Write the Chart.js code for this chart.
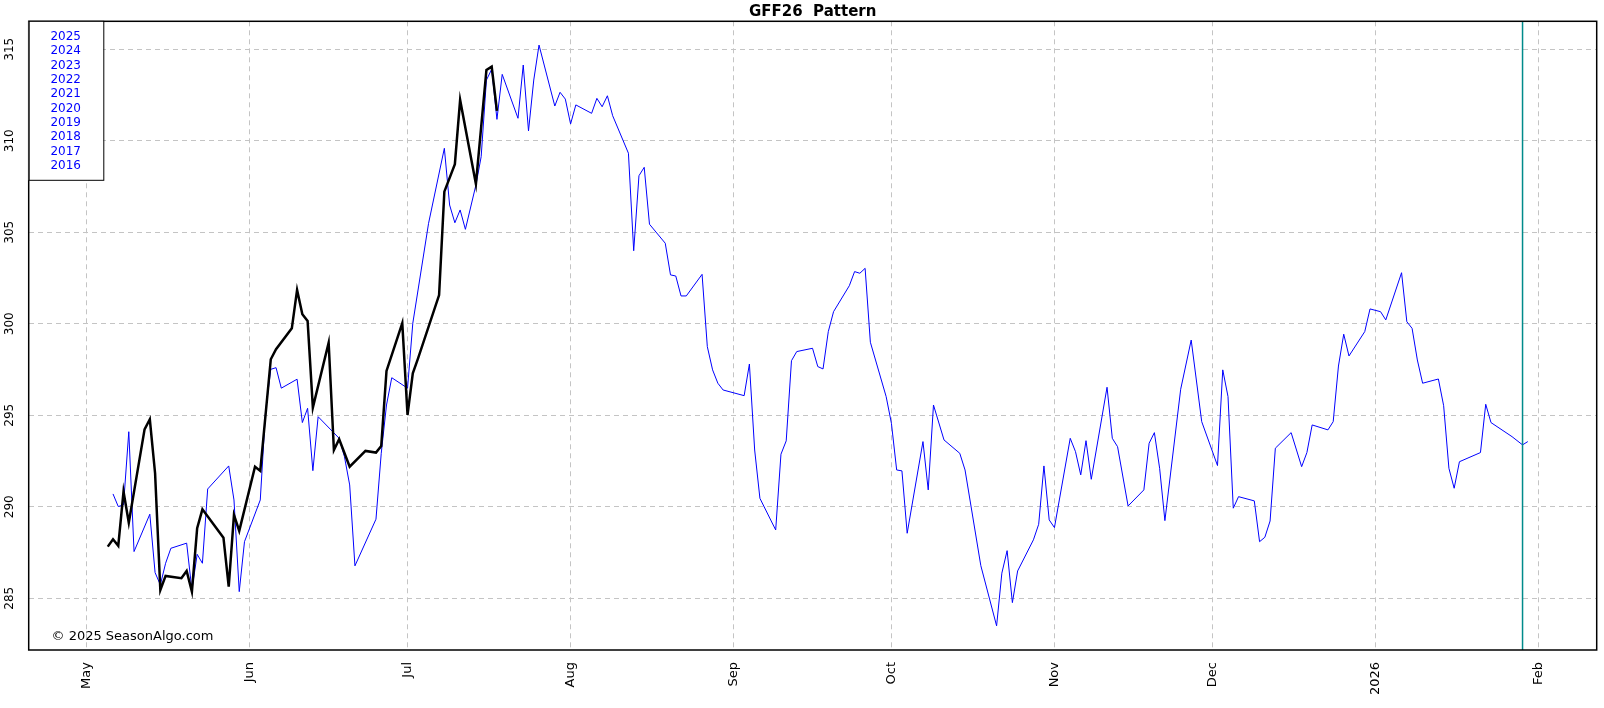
<!DOCTYPE html>
<html>
<head>
<meta charset="utf-8">
<title>GFF26 Pattern</title>
<script src="https://cdn.jsdelivr.net/npm/chart.js@4.4.1/dist/chart.umd.min.js"></script>
<style>
  html, body { margin: 0; padding: 0; background: #fff; }
  #wrap { width: 1604px; height: 708px; position: relative; }
</style>
</head>
<body>
<div id="wrap"><canvas id="pattern"></canvas></div>
<script>
const titleText = 'GFF26  Pattern';
const copyright = '\u00a9 2025 SeasonAlgo.com';
const legendYears = ['2025', '2024', '2023', '2022', '2021', '2020', '2019', '2018', '2017', '2016'];

const monthTicks = ['05-01', '06-01', '07-01', '08-01', '09-01', '10-01', '11-01', '12-01', '01-01', '02-01'];
const monthLabels = ['May', 'Jun', 'Jul', 'Aug', 'Sep', 'Oct', 'Nov', 'Dec', '2026', 'Feb'];
const priceTicks = [285, 290, 295, 300, 305, 310, 315];
const cursorDate = '01-29';

// 2025 contract path (black)
const actualDates = ['05-05', '05-06', '05-07', '05-08', '05-09', '05-12', '05-13', '05-14', '05-15', '05-16',
  '05-19', '05-20', '05-21', '05-22', '05-23', '05-27', '05-28', '05-29', '05-30', '06-02',
  '06-03', '06-05', '06-06', '06-09', '06-10', '06-11', '06-12', '06-13', '06-16', '06-17',
  '06-18', '06-20', '06-23', '06-25', '06-26', '06-27', '06-30', '07-01', '07-02', '07-03',
  '07-07', '07-08', '07-10', '07-11', '07-14', '07-16', '07-17', '07-18'];
const actualValues = [287.82, 288.22, 287.86, 290.83, 289.13, 294.23, 294.78, 291.83, 285.45, 286.22,
  286.09, 286.49, 285.36, 288.83, 289.86, 288.31, 285.63, 289.55, 288.68, 292.19,
  291.96, 298.06, 298.61, 299.75, 301.85, 300.52, 300.15, 295.42, 298.97, 293.10,
  293.69, 292.19, 293.05, 292.96, 293.32, 297.42, 300.03, 295.02, 297.29, 298.11,
  301.57, 307.22, 308.72, 312.23, 307.64, 313.87, 314.05, 311.64];

// seasonal pattern (blue)
const patternDates = ['05-06', '05-07', '05-08', '05-09', '05-10', '05-13', '05-14', '05-15', '05-16', '05-17',
  '05-20', '05-21', '05-22', '05-23', '05-24', '05-28', '05-29', '05-30', '05-31', '06-03',
  '06-04', '06-05', '06-06', '06-07', '06-10', '06-11', '06-12', '06-13', '06-14', '06-18',
  '06-19', '06-20', '06-21', '06-25', '06-26', '06-27', '06-28', '07-01', '07-02', '07-05',
  '07-08', '07-09', '07-10', '07-11', '07-12', '07-14', '07-15', '07-16', '07-17', '07-18',
  '07-19', '07-22', '07-23', '07-24', '07-25', '07-26', '07-29', '07-30', '07-31', '08-01',
  '08-02', '08-05', '08-06', '08-07', '08-08', '08-09', '08-12', '08-13', '08-14', '08-15',
  '08-16', '08-19', '08-20', '08-21', '08-22', '08-23', '08-26', '08-27', '08-28', '08-29',
  '08-30', '09-03', '09-04', '09-05', '09-06', '09-09', '09-10', '09-11', '09-12', '09-13',
  '09-16', '09-17', '09-18', '09-19', '09-20', '09-23', '09-24', '09-25', '09-26', '09-27',
  '09-30', '10-01', '10-02', '10-03', '10-04', '10-07', '10-08', '10-09', '10-11', '10-14',
  '10-15', '10-18', '10-21', '10-22', '10-23', '10-24', '10-25', '10-28', '10-29', '10-30',
  '10-31', '11-01', '11-04', '11-05', '11-06', '11-07', '11-08', '11-11', '11-12', '11-13',
  '11-15', '11-18', '11-19', '11-20', '11-21', '11-22', '11-25', '11-27', '11-29', '12-02',
  '12-03', '12-04', '12-05', '12-06', '12-09', '12-10', '12-11', '12-12', '12-13', '12-16',
  '12-18', '12-19', '12-20', '12-23', '12-24', '12-25', '12-26', '12-27', '12-30', '12-31',
  '01-02', '01-03', '01-06', '01-07', '01-08', '01-09', '01-10', '01-13', '01-14', '01-15',
  '01-16', '01-17', '01-21', '01-22', '01-23', '01-27', '01-29', '01-30'];
const patternValues = [290.70, 290.01, 290.10, 294.10, 287.55, 289.59, 286.40, 285.73, 286.91, 287.73,
  288.01, 285.45, 287.40, 286.91, 290.97, 292.23, 290.37, 285.36, 288.09, 290.37,
  295.20, 297.51, 297.60, 296.48, 296.97, 294.60, 295.38, 291.97, 294.92, 293.74,
  292.74, 291.19, 286.77, 289.32, 292.92, 295.56, 297.05, 296.48, 300.03, 305.49,
  309.59, 306.49, 305.52, 306.22, 305.16, 307.58, 309.13, 313.32, 313.91, 311.17,
  313.63, 311.23, 314.14, 310.54, 313.32, 315.23, 311.90, 312.65, 312.28, 310.92,
  311.96, 311.50, 312.32, 311.86, 312.46, 311.37, 309.32, 303.99, 308.09, 308.55,
  305.44, 304.40, 302.67, 302.61, 301.52, 301.52, 302.70, 298.75, 297.48, 296.75,
  296.38, 296.07, 297.80, 293.10, 290.46, 288.73, 292.87, 293.60, 297.98, 298.48,
  298.66, 297.66, 297.53, 299.57, 300.66, 302.08, 302.85, 302.76, 303.03, 298.99,
  296.02, 294.56, 292.01, 291.96, 288.55, 293.56, 290.92, 295.56, 293.65, 292.92,
  292.01, 286.78, 283.49, 286.37, 287.60, 284.76, 286.49, 288.19, 289.04, 292.23,
  289.28, 288.86, 293.74, 293.01, 291.74, 293.61, 291.50, 296.53, 293.74, 293.28,
  290.04, 290.92, 293.47, 294.05, 292.10, 289.24, 296.42, 299.11, 294.65, 292.25,
  297.48, 296.02, 289.92, 290.55, 290.32, 288.09, 288.33, 289.22, 293.20, 294.05,
  292.19, 292.96, 294.47, 294.20, 294.65, 297.69, 299.43, 298.24, 299.57, 300.81,
  300.66, 300.21, 302.79, 300.11, 299.75, 298.02, 296.75, 296.98, 295.52, 292.10,
  291.01, 292.46, 292.96, 295.60, 294.60, 293.83, 293.38, 293.56];

// days since 1 May 2025; Jan/Feb belong to 2026
function dayOf(md) {
  const m = parseInt(md.slice(0, 2), 10);
  const d = parseInt(md.slice(3), 10);
  const y = m <= 2 ? 2026 : 2025;
  return (Date.UTC(y, m - 1, d) - Date.UTC(2025, 4, 1)) / 86400000;
}

const toPoints = (dates, vals) => dates.map((md, i) => ({ x: dayOf(md), y: vals[i] }));
const tickDays = monthTicks.map(dayOf);

const FONT = 'DejaVu Sans';

const framePlugin = {
  id: 'frame',
  afterDatasetsDraw(chart) {
    const { ctx, chartArea: a, scales } = chart;
    ctx.save();
    // today marker
    const cx = scales.x.getPixelForValue(dayOf(cursorDate));
    ctx.strokeStyle = '#008b8b';
    ctx.lineWidth = 1.5;
    ctx.beginPath();
    ctx.moveTo(cx, a.top);
    ctx.lineTo(cx, a.bottom);
    ctx.stroke();

    // plot border
    ctx.strokeStyle = '#000';
    ctx.lineWidth = 1.5;
    ctx.strokeRect(a.left, a.top, a.right - a.left, a.bottom - a.top);

    // year box
    const bw = 74.6, bh = 159;
    ctx.fillStyle = '#fff';
    ctx.fillRect(a.left, a.top, bw, bh);
    ctx.lineWidth = 1;
    ctx.strokeRect(a.left + 0.5, a.top, bw, bh);
    ctx.fillStyle = '#0000ff';
    ctx.font = '12px ' + FONT;
    ctx.textAlign = 'center';
    ctx.textBaseline = 'middle';
    legendYears.forEach((yr, i) => {
      ctx.fillText(yr, a.left + 37, a.top + 15.5 + i * 14.33);
    });

    // copyright
    ctx.fillStyle = '#000';
    ctx.font = '13px ' + FONT;
    ctx.textAlign = 'left';
    ctx.fillText(copyright, 51.5, 637);

    // title
    ctx.font = 'bold 15px ' + FONT;
    ctx.textAlign = 'center';
    ctx.fillText(titleText, (a.left + a.right) / 2, 12);

    // rotated price labels
    ctx.font = '12px ' + FONT;
    priceTicks.forEach(v => {
      const py = scales.y.getPixelForValue(v);
      ctx.save();
      ctx.translate(9.5, py);
      ctx.rotate(-Math.PI / 2);
      ctx.fillText(String(v), 0, 0);
      ctx.restore();
    });
    ctx.restore();
  }
};

const gridStyle = {
  color: '#c4c4c4',
  lineWidth: 1,
  drawTicks: false
};

const ctx = document.getElementById('pattern').getContext('2d');
const chart = new Chart(ctx, {
  type: 'line',
  data: {
    datasets: [
      {
        label: '2025',
        data: toPoints(actualDates, actualValues),
        borderColor: '#000000',
        borderWidth: 2.5,
        pointRadius: 0,
        tension: 0,
        order: 0
      },
      {
        label: 'Pattern',
        data: toPoints(patternDates, patternValues),
        borderColor: '#0000ff',
        borderWidth: 1,
        pointRadius: 0,
        tension: 0,
        order: 1
      }
    ]
  },
  options: {
    responsive: true,
    maintainAspectRatio: false,
    animation: false,
    layout: { padding: { top: 21.3, right: 7.3, left: 0, bottom: 0 } },
    plugins: {
      legend: { display: false },
      title: { display: false },
      tooltip: { enabled: false }
    },
    scales: {
      x: {
        type: 'linear',
        min: -11.03,
        max: 287.1,
        afterBuildTicks: scale => {
          scale.ticks = tickDays.map(v => ({ value: v }));
        },
        afterFit: scale => { scale.height = 58; },
        grid: Object.assign({ tickBorderDash: [] }, gridStyle),
        border: { display: false, dash: [5, 4] },
        ticks: {
          autoSkip: false,
          minRotation: 90,
          maxRotation: 90,
          padding: 12,
          color: '#000',
          font: { family: FONT, size: 13 },
          callback: (val, i) => monthLabels[i]
        }
      },
      y: {
        type: 'linear',
        min: 282.17,
        max: 316.53,
        afterBuildTicks: scale => {
          scale.ticks = priceTicks.map(v => ({ value: v }));
        },
        afterFit: scale => { scale.width = 28.7; },
        grid: gridStyle,
        border: { display: false, dash: [5, 4] },
        ticks: { display: false }
      }
    }
  },
  plugins: [framePlugin]
});
</script>
</body>
</html>
